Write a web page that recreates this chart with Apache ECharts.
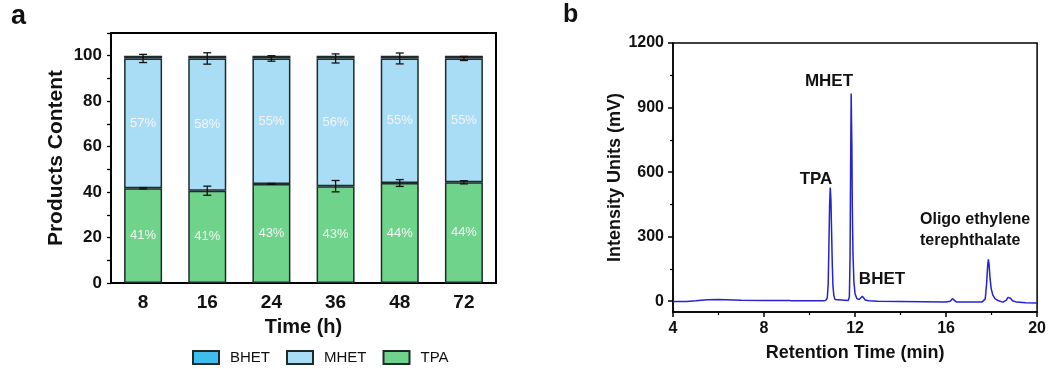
<!DOCTYPE html>
<html><head><meta charset="utf-8">
<script src="https://cdn.jsdelivr.net/npm/echarts@6/dist/echarts.min.js"></script>
<style>html,body{margin:0;padding:0;background:#fff}#c{width:1049px;height:369px}</style>
</head><body><div id="c"></div>
<script>
// ---- Panel a data ----
const categories = ['8', '16', '24', '36', '48', '72'];
const tpa  = [41.7, 40.6, 43.6, 42.6, 44.0, 44.3];
const mhet = [57.1, 58.2, 55.2, 56.2, 54.8, 54.5];
const bhet = [1.2, 1.2, 1.2, 1.2, 1.2, 1.2];
const tpaErr  = [0.3, 2.0, 0.2, 2.5, 1.5, 0.7];
const mhetErr = [1.8, 2.5, 1.2, 2.0, 2.4, 0.9];
const tpaLabels  = ['41%', '41%', '43%', '43%', '44%', '44%'];
const mhetLabels = ['57%', '58%', '55%', '56%', '55%', '55%'];
const yTicksA = [0, 20, 40, 60, 80, 100];

// ---- Panel b data ----
const retentionTime = [4.0, 4.6, 5.0, 5.5, 6.0, 7.0, 8.0, 9.0, 9.1, 9.2, 10.0, 10.6,
  10.70, 10.78, 10.82, 10.85, 10.88, 10.91, 10.94, 10.97, 11.00, 11.03, 11.07, 11.12, 11.2,
  11.70, 11.75, 11.78, 11.80, 11.83, 11.86, 11.88, 11.91, 11.95, 12.0, 12.08, 12.18, 12.26, 12.32, 12.38, 12.45, 12.6,
  13.0, 14.0, 15.0, 16.0, 16.18, 16.28, 16.35, 16.45, 17.0, 17.45, 17.52, 17.58,
  17.65, 17.72, 17.78, 17.83, 17.86, 17.89, 17.93, 17.98, 18.05, 18.15, 18.3, 18.5,
  18.65, 18.72, 18.77, 18.83, 18.92, 19.1, 19.5, 20.0];
const intensity = [-1, -1, 2, 7, 8, 5, 4, 3, 4, 2, 2, 2,
  3, 15, 80, 250, 440, 528, 470, 320, 170, 70, 25, 8, 4,
  3, 20, 200, 550, 965, 720, 430, 220, 90, 35, 12, 8, 15, 23, 15, 6, 2,
  0, -1, -2, -3, 0, 12, 5, -3, -4, -4, 1, -3,
  -3, 10, 80, 170, 195, 170, 110, 60, 30, 12, 2, -4,
  5, 18, 22, 14, 2, -4, -7, -8];
const yTicksB = [0, 300, 600, 900, 1200];
const yMinorB = [150, 450, 750, 1050];

const FONT = "'Liberation Sans', Arial, sans-serif";
const TXT = '#111';

const errA = [];
for (let i = 0; i < categories.length; i++) {
  errA.push([i, tpa[i], tpaErr[i]]);
  errA.push([i, tpa[i] + mhet[i], mhetErr[i]]);
}
const lineData = retentionTime.map((t, i) => [t, intensity[i]]);

const barBorder = { borderColor: '#1d2b2b', borderWidth: 1.5 };

const chart = echarts.init(document.getElementById('c'), null, { renderer: 'canvas' });
chart.setOption({
  animation: false,
  textStyle: { fontFamily: FONT },
  legend: {
    data: ['BHET', 'MHET', 'TPA'],
    left: 192, top: 350, padding: 0,
    itemWidth: 26, itemHeight: 13, itemGap: 16,
    icon: 'rect',
    textStyle: { fontSize: 15, color: TXT, fontFamily: FONT, padding: [0, 0, 0, 6] }
  },
  grid: [
    { left: 111, top: 33, width: 385, height: 250, show: true, borderColor: '#000', borderWidth: 2 },
    { left: 673, top: 43, width: 366, height: 269, show: true, borderColor: '#000', borderWidth: 1.5 }
  ],
  xAxis: [
    {
      gridIndex: 0, type: 'category', data: categories,
      name: 'Time (h)', nameLocation: 'middle', nameGap: 34,
      nameTextStyle: { fontSize: 20, fontWeight: 'bold', color: TXT, fontFamily: FONT },
      axisLine: { lineStyle: { color: '#000', width: 2 } },
      axisTick: { alignWithLabel: true, length: 5, lineStyle: { color: '#000', width: 1.5 } },
      axisLabel: { fontSize: 19, fontWeight: 'bold', color: TXT, margin: 10, fontFamily: FONT }
    },
    {
      gridIndex: 1, type: 'value', min: 4, max: 20, interval: 4,
      name: 'Retention Time (min)', nameLocation: 'middle', nameGap: 32,
      nameTextStyle: { fontSize: 18, fontWeight: 'bold', color: TXT, fontFamily: FONT },
      axisLine: { onZero: false, lineStyle: { color: '#000', width: 1.5 } },
      axisTick: { length: 5, lineStyle: { color: '#000', width: 1.5 } },
      minorTick: { show: true, splitNumber: 2, length: 3, lineStyle: { color: '#000', width: 1.2 } },
      splitLine: { show: false },
      axisLabel: { fontSize: 16, fontWeight: 'bold', color: TXT, margin: 9, fontFamily: FONT }
    }
  ],
  yAxis: [
    {
      gridIndex: 0, type: 'value', min: 0, max: 110, interval: 10,
      name: 'Products Content', nameLocation: 'middle', nameGap: 44, nameRotate: 90,
      nameTextStyle: { fontSize: 21, fontWeight: 'bold', color: TXT, fontFamily: FONT },
      axisLine: { show: true, lineStyle: { color: '#000', width: 2 } },
      axisTick: { show: true, length: 4, lineStyle: { color: '#000', width: 1.3 } },
      splitLine: { show: false },
      axisLabel: {
        fontSize: 17, fontWeight: 'bold', color: TXT, margin: 9, fontFamily: FONT,
        formatter: v => (yTicksA.indexOf(v) >= 0 ? String(v) : '')
      }
    },
    {
      gridIndex: 1, type: 'value', min: -50, max: 1200,
      name: 'Intensity Units (mV)', nameLocation: 'middle', nameGap: 46, nameRotate: 90,
      nameTextStyle: { fontSize: 18, fontWeight: 'bold', color: TXT, fontFamily: FONT },
      axisLine: { show: true, onZero: false, lineStyle: { color: '#000', width: 1.5 } },
      axisTick: { show: true, length: 5, customValues: yTicksB, lineStyle: { color: '#000', width: 1.5 } },
      splitLine: { show: false },
      axisLabel: { fontSize: 16, fontWeight: 'bold', color: TXT, margin: 9, fontFamily: FONT,
        customValues: yTicksB, formatter: v => String(v) }
    },
    {
      gridIndex: 1, type: 'value', min: -50, max: 1200, position: 'left',
      axisLine: { show: false },
      axisTick: { show: true, length: 3, customValues: yMinorB, lineStyle: { color: '#000', width: 1.2 } },
      axisLabel: { show: false, customValues: yMinorB },
      splitLine: { show: false }
    }
  ],
  series: [
    {
      name: 'TPA', type: 'bar', xAxisIndex: 0, yAxisIndex: 0, stack: 'p', data: tpa,
      barWidth: 38,
      itemStyle: Object.assign({ color: '#6fd38b' }, barBorder),
      label: { show: true, position: 'inside', color: '#f4f4f4', fontSize: 13, fontFamily: FONT,
        formatter: p => tpaLabels[p.dataIndex] }
    },
    {
      name: 'MHET', type: 'bar', xAxisIndex: 0, yAxisIndex: 0, stack: 'p', data: mhet,
      barWidth: 38,
      itemStyle: Object.assign({ color: '#a9ddf6' }, barBorder),
      label: { show: true, position: 'inside', color: '#f4f4f4', fontSize: 13, fontFamily: FONT,
        formatter: p => mhetLabels[p.dataIndex] }
    },
    {
      name: 'BHET', type: 'bar', xAxisIndex: 0, yAxisIndex: 0, stack: 'p', data: bhet,
      barWidth: 38,
      itemStyle: Object.assign({ color: '#3fbdec' }, barBorder)
    },
    {
      name: 'err', type: 'custom', xAxisIndex: 0, yAxisIndex: 0, data: errA, z: 10,
      renderItem: (params, api) => {
        const x = api.value(0), c = api.value(1), e = api.value(2);
        const hi = api.coord([x, c + e]);
        const lo = api.coord([x, c - e]);
        const w = 4;
        const st = { stroke: '#111', lineWidth: 1.3 };
        return { type: 'group', children: [
          { type: 'line', shape: { x1: hi[0], y1: hi[1], x2: lo[0], y2: lo[1] }, style: st },
          { type: 'line', shape: { x1: hi[0] - w, y1: hi[1], x2: hi[0] + w, y2: hi[1] }, style: st },
          { type: 'line', shape: { x1: lo[0] - w, y1: lo[1], x2: lo[0] + w, y2: lo[1] }, style: st }
        ] };
      }
    },
    {
      name: 'chromatogram', type: 'line', xAxisIndex: 1, yAxisIndex: 1, data: lineData,
      showSymbol: false, symbol: 'none', smooth: false,
      lineStyle: { color: '#2323d2', width: 1.5 }
    }
  ],
  graphic: [
    { type: 'text', left: 11, top: 3, style: { text: 'a', font: "bold 27px 'Liberation Sans', Arial, sans-serif", fill: TXT } },
    { type: 'text', left: 563, top: 3, style: { text: 'b', font: "bold 25px 'Liberation Sans', Arial, sans-serif", fill: TXT } },
    { type: 'text', x: 829, y: 81, style: { text: 'MHET', font: "bold 17px 'Liberation Sans', Arial, sans-serif", fill: TXT, align: 'center', verticalAlign: 'middle' } },
    { type: 'text', x: 816, y: 179, style: { text: 'TPA', font: "bold 17px 'Liberation Sans', Arial, sans-serif", fill: TXT, align: 'center', verticalAlign: 'middle' } },
    { type: 'text', x: 882, y: 279, style: { text: 'BHET', font: "bold 17px 'Liberation Sans', Arial, sans-serif", fill: TXT, align: 'center', verticalAlign: 'middle' } },
    { type: 'text', x: 920, y: 220, style: { text: 'Oligo ethylene', font: "bold 16px 'Liberation Sans', Arial, sans-serif", fill: TXT, align: 'left', verticalAlign: 'middle' } },
    { type: 'text', x: 920, y: 241, style: { text: 'terephthalate', font: "bold 16px 'Liberation Sans', Arial, sans-serif", fill: TXT, align: 'left', verticalAlign: 'middle' } }
  ]
});
</script>
</body></html>
